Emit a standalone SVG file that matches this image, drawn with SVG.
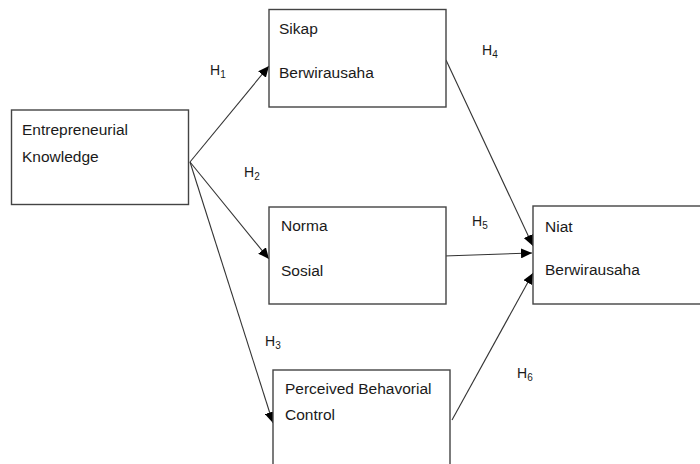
<svg xmlns="http://www.w3.org/2000/svg" width="700" height="464" viewBox="0 0 700 464">
<defs>
<style>
.box{fill:#fff;stroke:#444;stroke-width:1.4}
.t{font-family:"Liberation Sans",Arial,sans-serif;font-size:15.5px;fill:#1a1a1a}
.h{font-family:"Liberation Sans",Arial,sans-serif;font-size:14px;fill:#1a1a1a}
.s{font-size:10px}
.c{stroke:#333;stroke-width:1.1;fill:none;marker-end:url(#arr)}
</style>
<marker id="arr" markerUnits="userSpaceOnUse" markerWidth="12" markerHeight="10" refX="11" refY="5" orient="auto">
<path d="M0,0 L11,5 L0,10 Z" fill="#000"/>
</marker>
</defs>
<rect width="700" height="464" fill="#fff"/>
<g id="connectors">
<line class="c" x1="190" y1="162" x2="269" y2="66"/>
<line class="c" x1="190" y1="162" x2="269" y2="259"/>
<line class="c" x1="190" y1="162" x2="273" y2="423"/>
<line class="c" x1="446" y1="60" x2="533" y2="246"/>
<line class="c" x1="444" y1="256" x2="532" y2="253"/>
<line class="c" x1="452" y1="420" x2="533" y2="273"/>
</g>
<g id="node-ek">
<rect class="box" x="11.5" y="110" width="177" height="94.5"/>
<text class="t" x="22" y="135">Entrepreneurial</text>
<text class="t" x="22" y="162">Knowledge</text>
</g>
<g id="node-sikap">
<rect class="box" x="269" y="9.5" width="177" height="97.5"/>
<text class="t" x="279" y="34">Sikap</text>
<text class="t" x="279" y="78">Berwirausaha</text>
</g>
<g id="node-norma">
<rect class="box" x="269" y="207" width="177" height="97"/>
<text class="t" x="281" y="231">Norma</text>
<text class="t" x="281" y="276">Sosial</text>
</g>
<g id="node-pbc">
<rect class="box" x="273" y="370" width="177" height="110"/>
<text class="t" x="285" y="394">Perceived Behavorial</text>
<text class="t" x="285" y="420">Control</text>
</g>
<g id="node-niat">
<rect class="box" x="533" y="206" width="180" height="98"/>
<text class="t" x="545" y="232">Niat</text>
<text class="t" x="545" y="275">Berwirausaha</text>
</g>
<g id="labels">
<text class="h" x="210" y="75">H<tspan class="s" dy="3">1</tspan></text>
<text class="h" x="244" y="177">H<tspan class="s" dy="3">2</tspan></text>
<text class="h" x="265" y="346">H<tspan class="s" dy="3">3</tspan></text>
<text class="h" x="482" y="55">H<tspan class="s" dy="3">4</tspan></text>
<text class="h" x="472" y="226">H<tspan class="s" dy="3">5</tspan></text>
<text class="h" x="517" y="378">H<tspan class="s" dy="3">6</tspan></text>
</g>
</svg>
